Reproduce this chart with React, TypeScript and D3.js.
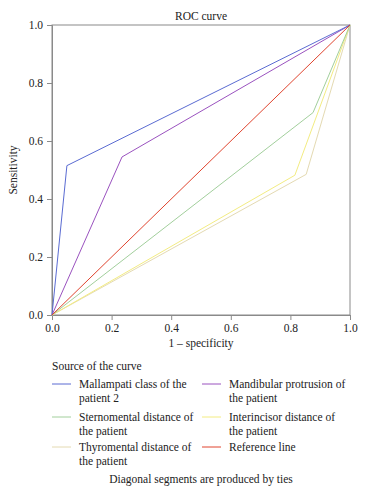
import React, { useEffect, useRef } from 'react'
import * as d3 from 'd3'

// ROC points (1 - specificity, sensitivity)
const mallampati: [number, number][] = [[0, 0], [0.05, 0.515], [1, 1]]
const mandibular: [number, number][] = [[0, 0], [0.235, 0.545], [1, 1]]
const sternomental: [number, number][] = [[0, 0], [0.876, 0.698], [1, 1]]
const interincisor: [number, number][] = [[0, 0], [0.815, 0.482], [1, 1]]
const thyromental: [number, number][] = [[0, 0], [0.853, 0.485], [1, 1]]
const reference: [number, number][] = [[0, 0], [0.5, 0.5], [1, 1]]

const seriesNames = [
  ['Mallampati class of the', 'patient 2'],
  ['Mandibular protrusion of', 'the patient'],
  ['Sternomental distance of', 'the patient'],
  ['Interincisor distance of', 'the patient'],
  ['Thyromental distance of', 'the patient'],
  ['Reference line'],
]
const seriesData = [mallampati, mandibular, sternomental, interincisor, thyromental, reference]
const seriesColors = ['#5a6bd2', '#9a52bf', '#a2cf9c', '#f3ec82', '#e4dab2', '#e0442e']
const drawOrder = [4, 3, 2, 1, 0, 5]

const ticks = [0, 0.2, 0.4, 0.6, 0.8, 1.0]

const FONT = "'Liberation Serif', 'DejaVu Serif', 'Times New Roman', serif"

const App: React.FC = () => {
  const svgRef = useRef<SVGSVGElement>(null)

  useEffect(() => {
    if (!svgRef.current) return
    const svg = d3.select(svgRef.current)
    svg.selectAll('*').remove()

    const left = 52
    const right = 350
    const top = 25
    const bottom = 315

    const x = d3.scaleLinear().domain([0, 1]).range([left, right])
    const y = d3.scaleLinear().domain([0, 1]).range([bottom, top])

    const label = (tx: number, ty: number, t: string, anchor = 'start') =>
      svg.append('text')
        .attr('x', tx)
        .attr('y', ty)
        .attr('text-anchor', anchor)
        .style('font-family', FONT)
        .attr('font-size', 11.5)
        .attr('fill', '#222')
        .text(t)

    svg.append('rect').attr('width', 370).attr('height', 500).attr('fill', '#fff')

    // title
    label((left + right) / 2, 20, 'ROC curve', 'middle')

    // frame
    svg.append('rect')
      .attr('x', left)
      .attr('y', top)
      .attr('width', right - left)
      .attr('height', bottom - top)
      .attr('fill', 'none')
      .attr('stroke', '#8a8a8a')
      .attr('stroke-width', 1)

    // axes
    const xAxis = svg.append('g')
      .attr('transform', `translate(0,${bottom})`)
      .call(d3.axisBottom(x).tickValues(ticks).tickFormat(d3.format('.1f')).tickSize(5).tickPadding(4))
    const yAxis = svg.append('g')
      .attr('transform', `translate(${left},0)`)
      .call(d3.axisLeft(y).tickValues(ticks).tickFormat(d3.format('.1f')).tickSize(5).tickPadding(4))

    for (const ax of [xAxis, yAxis]) {
      ax.attr('font-size', 11.5)
      ax.selectAll('.domain').attr('stroke', '#8a8a8a')
      ax.selectAll('.tick line').attr('stroke', '#8a8a8a')
      ax.selectAll('text').style('font-family', FONT).attr('fill', '#222')
    }

    // axis titles
    label((left + right) / 2, 347, '1 – specificity', 'middle')
    label(0, 0, 'Sensitivity', 'middle')
      .attr('transform', `translate(17,${(top + bottom) / 2}) rotate(-90)`)

    // curves
    const line = d3.line<[number, number]>()
      .x((d) => x(d[0]))
      .y((d) => y(d[1]))
    for (const i of drawOrder) {
      svg.append('path')
        .datum(seriesData[i])
        .attr('d', line)
        .attr('fill', 'none')
        .attr('stroke', seriesColors[i])
        .attr('stroke-width', 1)
    }

    // legend
    label(52, 370, 'Source of the curve')

    const rowY = [384, 417, 447]
    const colX = [52, 202]
    seriesNames.forEach((lines, i) => {
      const cx = colX[i % 2]
      const cy = rowY[Math.floor(i / 2)]
      svg.append('line')
        .attr('x1', cx)
        .attr('x2', cx + 19)
        .attr('y1', cy)
        .attr('y2', cy)
        .attr('stroke', seriesColors[i])
        .attr('stroke-width', 1)
      lines.forEach((t, j) => {
        label(cx + 27, cy + 4 + j * 13.5, t)
      })
    })

    label(201, 483, 'Diagonal segments are produced by ties', 'middle')
  }, [])

  return (
    <svg
      ref={svgRef}
      width={370}
      height={500}
      style={{ position: 'absolute', left: 0, top: 0 }}
    />
  )
}

export default App
